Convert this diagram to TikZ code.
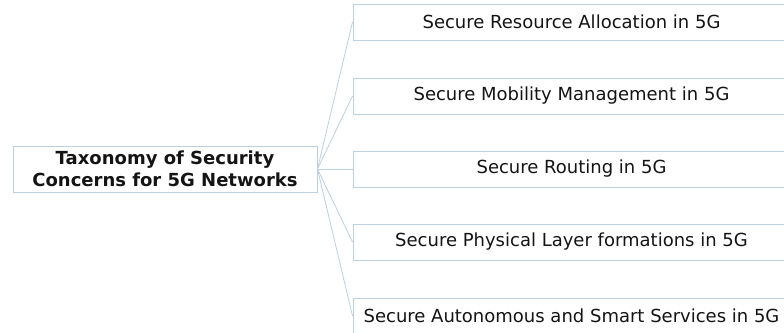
\documentclass[tikz,border=0pt]{standalone}
\usepackage{fontspec}
\setmainfont{DejaVu Sans}
\definecolor{bcol}{RGB}{188,208,224}
\definecolor{tcol}{RGB}{20,20,20}
\begin{document}
\begin{tikzpicture}[x=1pt,y=-1pt,
  rootbox/.style={draw=bcol, line width=0.9pt, inner sep=0pt, minimum width=304pt, minimum height=46pt, align=center, text=tcol, font=\fontsize{18}{22}\selectfont\bfseries},
  childbox/.style={draw=bcol, line width=0.9pt, inner sep=0pt, minimum width=437pt, minimum height=36pt, align=center, text=tcol, font=\fontsize{18}{22}\selectfont},
  conn/.style={draw=bcol, line width=0.8pt}]
\useasboundingbox (0,0) rectangle (784,332);
\node[rootbox] (root) at (165,169) {Taxonomy of Security\\Concerns for 5G Networks};
\node[childbox] (c1) at (571.5,22) {Secure Resource Allocation in 5G};
\node[childbox] (c2) at (571.5,96) {Secure Mobility Management in 5G};
\node[childbox] (c3) at (571.5,169) {Secure Routing in 5G};
\node[childbox] (c4) at (571.5,242) {Secure Physical Layer formations in 5G};
\node[childbox] (c5) at (571.5,316) {Secure Autonomous and Smart Services in 5G};
\foreach \c in {c1,c2,c3,c4,c5} \draw[conn] (root.east) -- (\c.west);
\end{tikzpicture}
\end{document}
